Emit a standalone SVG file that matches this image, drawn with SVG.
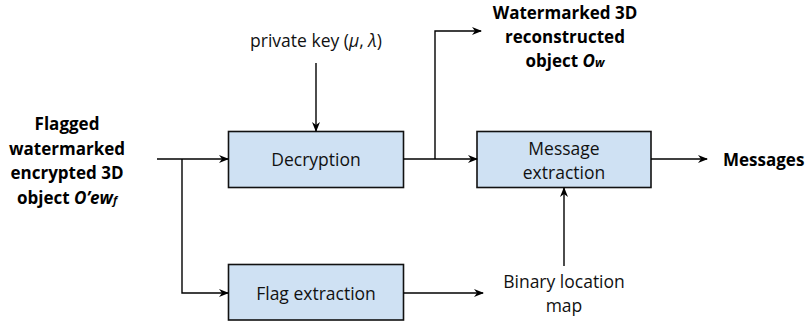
<svg xmlns="http://www.w3.org/2000/svg" width="810" height="323" viewBox="0 0 810 323">
<defs>
<marker id="ah" markerWidth="10" markerHeight="8" refX="9" refY="4" orient="auto" markerUnits="userSpaceOnUse">
<path d="M0,0 L10,4 L0,8 L3,4 Z" fill="#000"/>
</marker>
</defs>
<style>
.box{fill:#cfe1f3;stroke:#111;stroke-width:1.6}
.t{font-family:"Open Sans","Noto Sans",sans-serif;font-size:17.5px;fill:#111;text-anchor:middle}
.b{font-family:"Open Sans","Noto Sans",sans-serif;font-size:17px;font-weight:bold;fill:#000;text-anchor:middle}
.s{text-anchor:start}
.c{fill:none;stroke:#000;stroke-width:1.4}
</style>
<rect width="810" height="323" fill="#fff"/>
<g id="input">
<text class="b" x="67" y="130">Flagged</text>
<text class="b" x="67" y="154.5">watermarked</text>
<text class="b" x="67" y="179">encrypted 3D</text>
<text class="b" x="67" y="203.5">object <tspan font-style="italic">O’ew</tspan><tspan font-style="italic" font-size="11">f</tspan></text>
</g>
<g id="key">
<text class="t" x="316" y="47">private key (<tspan font-style="italic">μ</tspan>, <tspan font-style="italic">λ</tspan>)</text>
</g>
<g id="decryption">
<rect class="box" x="228.5" y="131.5" width="175" height="56"/>
<text class="t" x="316" y="166">Decryption</text>
</g>
<g id="message-extraction">
<rect class="box" x="477" y="131.5" width="174" height="56"/>
<text class="t" x="564" y="155">Message</text>
<text class="t" x="564" y="179">extraction</text>
</g>
<g id="flag-extraction">
<rect class="box" x="228.5" y="264.5" width="175" height="55.5"/>
<text class="t" x="316" y="299.5">Flag extraction</text>
</g>
<g id="reconstructed">
<text class="b" x="565" y="19">Watermarked 3D</text>
<text class="b" x="565" y="43">reconstructed</text>
<text class="b" x="565" y="67">object <tspan font-style="italic">O</tspan><tspan font-style="italic" font-size="12">w</tspan></text>
</g>
<g id="messages">
<text class="b s" x="723" y="166">Messages</text>
</g>
<g id="location-map">
<text class="t" x="564" y="288">Binary location</text>
<text class="t" x="564" y="312">map</text>
</g>
<g id="connectors">
<path class="c" d="M157,159 H228" marker-end="url(#ah)"/>
<path class="c" d="M182,159 V293 H228" marker-end="url(#ah)"/>
<path class="c" d="M316,63 V131" marker-end="url(#ah)"/>
<path class="c" d="M403.5,159 H477" marker-end="url(#ah)"/>
<path class="c" d="M435,159 V31 H481" marker-end="url(#ah)"/>
<path class="c" d="M651,159 H707" marker-end="url(#ah)"/>
<path class="c" d="M403.5,293 H483" marker-end="url(#ah)"/>
<path class="c" d="M564,266 V188" marker-end="url(#ah)"/>
</g>
</svg>
